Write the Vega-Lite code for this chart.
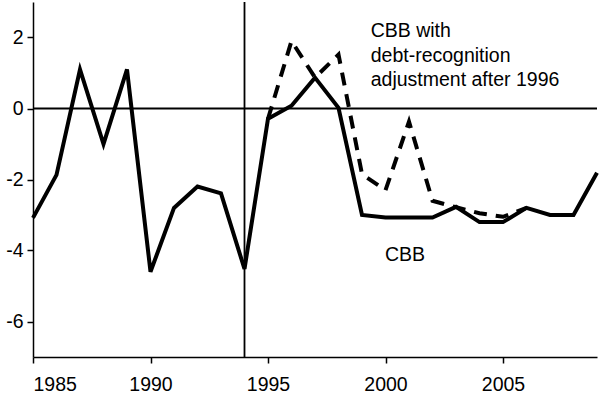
{
  "$schema": "https://vega.github.io/schema/vega-lite/v6.json",
  "width": 564,
  "height": 355,
  "autosize": {"type": "none"},
  "padding": {"left": 33, "top": 2, "right": 3, "bottom": 37},
  "background": "white",
  "config": {
    "view": {"stroke": null},
    "font": "Liberation Sans",
    "axis": {"grid": false, "domainColor": "black", "tickColor": "black", "labelColor": "black", "labelFont": "Liberation Sans", "labelFontSize": 19.5, "domainWidth": 1.5, "tickWidth": 1.5, "title": null}
  },
  "datasets": {
    "series": [
      {"year": 1985, "value": -3.08, "series": "CBB"},
      {"year": 1986, "value": -1.87, "series": "CBB"},
      {"year": 1987, "value": 1.1, "series": "CBB"},
      {"year": 1988, "value": -1.0, "series": "CBB"},
      {"year": 1989, "value": 1.1, "series": "CBB"},
      {"year": 1990, "value": -4.6, "series": "CBB"},
      {"year": 1991, "value": -2.8, "series": "CBB"},
      {"year": 1992, "value": -2.2, "series": "CBB"},
      {"year": 1993, "value": -2.39, "series": "CBB"},
      {"year": 1994, "value": -4.52, "series": "CBB"},
      {"year": 1995, "value": -0.29, "series": "CBB"},
      {"year": 1996, "value": 0.08, "series": "CBB"},
      {"year": 1997, "value": 0.87, "series": "CBB"},
      {"year": 1998, "value": 0.02, "series": "CBB"},
      {"year": 1999, "value": -3.0, "series": "CBB"},
      {"year": 2000, "value": -3.07, "series": "CBB"},
      {"year": 2001, "value": -3.07, "series": "CBB"},
      {"year": 2002, "value": -3.07, "series": "CBB"},
      {"year": 2003, "value": -2.77, "series": "CBB"},
      {"year": 2004, "value": -3.2, "series": "CBB"},
      {"year": 2005, "value": -3.2, "series": "CBB"},
      {"year": 2006, "value": -2.8, "series": "CBB"},
      {"year": 2007, "value": -3.0, "series": "CBB"},
      {"year": 2008, "value": -3.0, "series": "CBB"},
      {"year": 2009, "value": -1.81, "series": "CBB"},
      {"year": 1995, "value": -0.29, "series": "Adjusted"},
      {"year": 1996, "value": 1.9, "series": "Adjusted"},
      {"year": 1997, "value": 0.87, "series": "Adjusted"},
      {"year": 1998, "value": 1.52, "series": "Adjusted"},
      {"year": 1999, "value": -1.85, "series": "Adjusted"},
      {"year": 2000, "value": -2.3, "series": "Adjusted"},
      {"year": 2001, "value": -0.37, "series": "Adjusted"},
      {"year": 2002, "value": -2.6, "series": "Adjusted"},
      {"year": 2003, "value": -2.78, "series": "Adjusted"},
      {"year": 2004, "value": -2.95, "series": "Adjusted"},
      {"year": 2005, "value": -3.05, "series": "Adjusted"},
      {"year": 2006, "value": -2.8, "series": "Adjusted"}
    ],
    "labels": [
      {"x": 1999.37, "y": 2.43, "label": "CBB with\ndebt-recognition\nadjustment after 1996"},
      {"x": 1999.98, "y": -3.86, "label": "CBB"}
    ],
    "refs": [
      {"vx": 1994, "hy": 0}
    ]
  },
  "layer": [
    {
      "data": {"name": "refs"},
      "mark": {"type": "rule", "color": "black", "strokeWidth": 1.8},
      "encoding": {
        "x": {"field": "vx", "type": "quantitative", "scale": {"domain": [1985, 2009], "nice": false, "zero": false}, "axis": {"values": [1985, 1990, 1995, 2000, 2005], "format": "d", "tickSize": 6, "labelPadding": 12, "domain": true}}
      }
    },
    {
      "data": {"name": "refs"},
      "mark": {"type": "rule", "color": "black", "strokeWidth": 1.8},
      "encoding": {
        "y": {"field": "hy", "type": "quantitative", "scale": {"domain": [-7, 3], "nice": false, "zero": false}, "axis": {"values": [-6, -4, -2, 0, 2], "labelExpr": "'' + datum.value", "tickSize": 6, "labelPadding": 4}}
      }
    },
    {
      "data": {"name": "series"},
      "transform": [{"filter": "datum.series === 'Adjusted'"}],
      "mark": {"type": "line", "color": "black", "strokeWidth": 4, "strokeDash": [13, 9], "strokeJoin": "miter"},
      "encoding": {
        "x": {"field": "year", "type": "quantitative"},
        "y": {"field": "value", "type": "quantitative"}
      }
    },
    {
      "data": {"name": "series"},
      "transform": [{"filter": "datum.series === 'CBB'"}],
      "mark": {"type": "line", "color": "black", "strokeWidth": 4, "strokeJoin": "miter"},
      "encoding": {
        "x": {"field": "year", "type": "quantitative"},
        "y": {"field": "value", "type": "quantitative"}
      }
    },
    {
      "data": {"name": "labels"},
      "mark": {"type": "text", "align": "left", "baseline": "top", "fontSize": 19.5, "lineBreak": "\n", "lineHeight": 24.5, "color": "black", "font": "Liberation Sans"},
      "encoding": {
        "x": {"field": "x", "type": "quantitative"},
        "y": {"field": "y", "type": "quantitative"},
        "text": {"field": "label"}
      }
    }
  ]
}
